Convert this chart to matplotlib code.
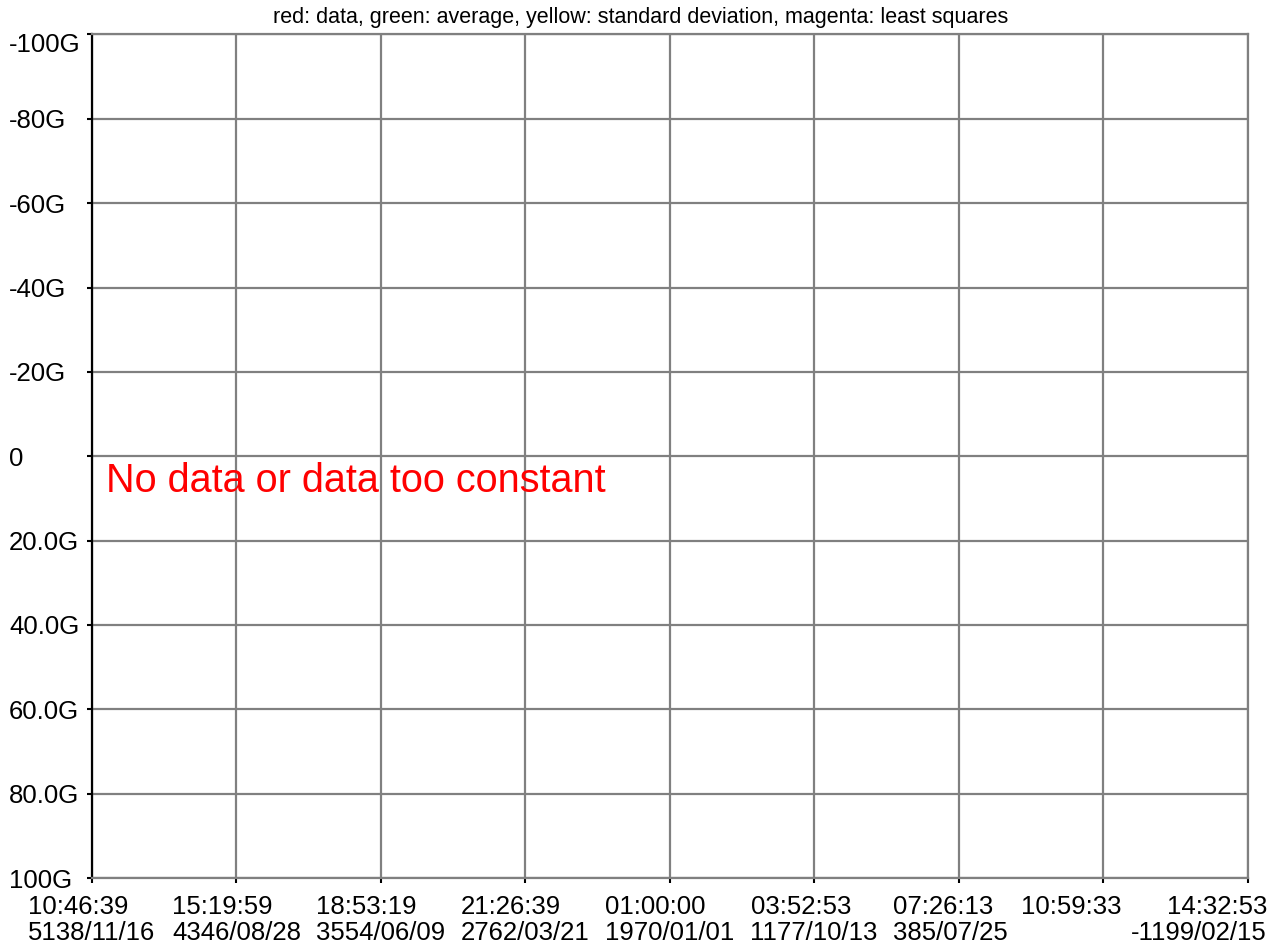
import matplotlib
matplotlib.use("Agg")
import matplotlib.pyplot as plt
from matplotlib.transforms import ScaledTranslation

plt.rcParams["font.family"] = ["Liberation Sans", "DejaVu Sans"]

# ---- chart content ----
title = "red: data, green: average, yellow: standard deviation, magenta: least squares"
message = "No data or data too constant"

y_ticks = [-100, -80, -60, -40, -20, 0, 20, 40, 60, 80, 100]
y_labels = ["-100G", "-80G", "-60G", "-40G", "-20G", "0",
            "20.0G", "40.0G", "60.0G", "80.0G", "100G"]

x_ticks = [0, 1, 2, 3, 4, 5, 6, 7, 8]
x_times = ["10:46:39", "15:19:59", "18:53:19", "21:26:39", "01:00:00",
           "03:52:53", "07:26:13", "10:59:33", "14:32:53"]
x_dates = ["5138/11/16", "4346/08/28", "3554/06/09", "2762/03/21", "1970/01/01",
           "1177/10/13", "385/07/25", "", "-1199/02/15"]

# ---- styling ----
GRID = "#808080"
W, H, DPI = 1281, 946, 100
fig = plt.figure(figsize=(W / DPI, H / DPI), dpi=DPI, facecolor="white")
ax = fig.add_axes([92 / W, 68 / H, 1155.5 / W, 843.5 / H])
ax.set_facecolor("white")

ax.set_xlim(x_ticks[0], x_ticks[-1])
ax.set_ylim(y_ticks[-1], y_ticks[0])  # negative values at the top

ax.set_yticks(y_ticks)
ax.set_yticklabels(y_labels, fontsize=18.5)
ax.set_xticks(x_ticks)
ax.set_xticklabels([])

ax.grid(True, color=GRID, linewidth=1.6, zorder=0)
ax.set_axisbelow(True)

for side in ("top", "right", "bottom"):
    ax.spines[side].set_color(GRID)
    ax.spines[side].set_linewidth(1.6)
ax.spines["left"].set_color("black")
ax.spines["left"].set_linewidth(1.6)

ax.tick_params(axis="y", direction="out", length=3.6, width=1.5,
               color="black", pad=56)
ax.tick_params(axis="x", direction="out", length=3.6, width=1.5,
               color="black")
for lbl in ax.get_yticklabels():
    lbl.set_horizontalalignment("left")
# keep the topmost label inside the canvas
top_lbl = ax.get_yticklabels()[0]
top_lbl.set_transform(top_lbl.get_transform()
                      + ScaledTranslation(0, -8 / DPI, fig.dpi_scale_trans))

# time/date labels under each tick (points offsets for crowded labels at the right)
shift_pts = {6: -6, 7: -23}
for i, (xt, tm, dt) in enumerate(zip(x_ticks, x_times, x_dates)):
    text = tm if not dt else f"{tm}\n{dt}"
    dx = shift_pts.get(i, 0)
    ha, ma = "center", "left"
    if i == len(x_ticks) - 1:
        ha, ma, dx = "right", "right", 14
    ax.annotate(text, xy=(xt, 0), xycoords=("data", "axes fraction"),
                xytext=(dx, -12.5), textcoords="offset points",
                ha=ha, va="top", multialignment=ma, fontsize=18.5,
                linespacing=1.1, annotation_clip=False)

fig.text(0.5, 1 - 18 / H, title, ha="center", va="center", fontsize=15.5)

ax.text(0.1, 1.4, message, color="red", fontsize=28.5, ha="left", va="top")

fig.savefig("out.png", dpi=DPI, facecolor="white")
